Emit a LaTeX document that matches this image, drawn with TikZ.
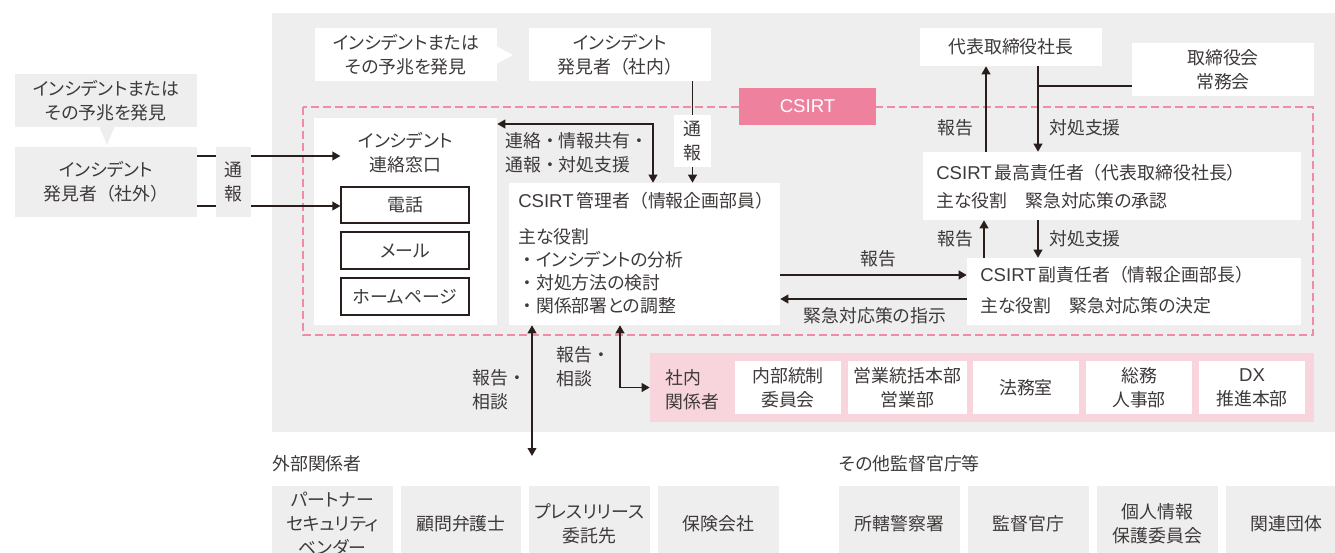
\documentclass[tikz,border=0pt]{standalone}
\usepackage{fontspec}
\setmainfont{Noto Sans CJK JP}[RawFeature=+palt]
\newfontfamily\fwf{Noto Sans CJK JP}
\newfontfamily\latf{Liberation Sans}[Scale=1.04]
\usetikzlibrary{arrows.meta,fit}
\definecolor{bgg}{RGB}{238,238,238}
\definecolor{txt}{RGB}{62,58,57}
\definecolor{lnc}{RGB}{40,30,28}
\definecolor{pinkband}{RGB}{248,212,221}
\definecolor{pinklab}{RGB}{238,130,158}
\definecolor{pinkdash}{RGB}{240,140,166}
\newcommand\CS{{\latf CSIRT}}
\newcommand\Dt{{\fwf ・}}
\newcommand\LP{{\fwf （}}
\newcommand\RP{{\fwf ）}}
% box (style, name, corners, text): shape by fit, text centred in it
\newcommand\mkbox[4]{\node[#1, fit={#3}] (#2) {};\node[ctr] (#2T) at (#2.center) {#4};}
\begin{document}
\begin{tikzpicture}[x=0.75pt,y=-0.75pt,
  every node/.style={font=\fontsize{13.4}{18}\selectfont, text=txt},
  wbox/.style={fill=white, inner sep=0pt},
  gbox/.style={fill=bgg, inner sep=0pt},
  obox/.style={draw=lnc, line width=0.9pt, fill=white, inner sep=0pt},
  pbox/.style={fill=pinkband, inner sep=0pt},
  lbl/.style={inner sep=0pt, align=left, anchor=west},
  ctr/.style={inner sep=0pt, align=center},
  ln/.style={draw=lnc, line width=1.3pt},
  arr/.style={ln, -{Triangle[length=6pt,width=6.5pt]}},
  darr/.style={ln, {Triangle[length=6pt,width=6.5pt]}-{Triangle[length=6pt,width=6.5pt]}},
]
\useasboundingbox (0,0) rectangle (1335,553);
\clip (0,0) rectangle (1335,553);

% helper coordinates
\coordinate (y86) at (0,86);
\coordinate (y124) at (0,124);
\coordinate (y156) at (0,156);
\coordinate (y206) at (0,206);
\coordinate (y275) at (0,275);
\coordinate (y299) at (0,299);
\coordinate (x620) at (620,0);
\coordinate (x653) at (653,0);
\coordinate (x984) at (984,0);
\coordinate (x986) at (986,0);
\coordinate (x1038) at (1038,0);
\coordinate (extEnd) at (532,456);

% big gray background
\fill[bgg] (272,13) rectangle (1335,432);

% ---------- left: external finder ----------
\mkbox{gbox}{callL}{(15,74)(197,127)}{インシデントまたは\\その予兆を発見}
\fill[bgg] (99,126) -- (115,126) -- (107,145) -- cycle;
\mkbox{gbox}{findOut}{(15,147)(197,217)}{インシデント\\発見者\LP 社外\RP}
\mkbox{gbox}{tsuL}{(216,147)(251,217)}{通\\報}

% ---------- top ----------
\mkbox{wbox}{callT}{(315,28)(497,81)}{インシデントまたは\\その予兆を発見}
\fill[white] (496,46) -- (513,55) -- (496,64) -- cycle;
\mkbox{wbox}{findIn}{(529,28)(711,81)}{インシデント\\発見者\LP 社内\RP}

% dashed CSIRT frame
\draw[pinkdash, line width=1.1pt, dash pattern=on 6pt off 3pt] (303,107) rectangle (1313,335);
\node[fill=pinklab, inner sep=0pt, fit={(739,88)(876,125)}] (csirt) {};
\node[ctr, text=white] (csirtT) at (csirt.center) {\CS};

\mkbox{wbox}{tsuT}{(674,115)(711,167)}{通\\報}

% contact window
\node[wbox, fit={(314,118)(497,325)}] (mado) {};
\node[ctr] (madoT) at (405.5,153) {インシデント\\連絡窓口};
\mkbox{obox}{denwa}{(341,187)(469,223)}{電話}
\mkbox{obox}{mail}{(341,232)(469,269)}{メール}
\mkbox{obox}{hp}{(341,278)(469,315)}{ホームページ}

% CSIRT manager
\node[wbox, fit={(509,183)(780,325)}] (mgr) {};
\node[lbl] (mgrT) at (518,201) {\CS\,管理者\LP 情報企画部員\RP};
\node[lbl] (mgrR) at (518,237) {主な役割};
\node[lbl] (mgrA) at (518,260) {\Dt インシデントの分析};
\node[lbl] (mgrB) at (518,283) {\Dt 対処方法の検討};
\node[lbl] (mgrC) at (518,306) {\Dt 関係部署との調整};

% right column
\mkbox{wbox}{pres}{(920,28)(1102,66)}{代表取締役社長}
\mkbox{wbox}{board}{(1132,43)(1314,96)}{取締役会\\常務会}
\node[wbox, fit={(923,152)(1301,220)}] (top) {};
\node[lbl] (topT) at (936,173) {\CS\,最高責任者\LP 代表取締役社長\RP};
\node[lbl] (topR) at (936,201) {主な役割　緊急対応策の承認};
\node[wbox, fit={(967,258)(1301,325)}] (vice) {};
\node[lbl] (viceT) at (980,275) {\CS\,副責任者\LP 情報企画部長\RP};
\node[lbl] (viceR) at (980,306) {主な役割　緊急対応策の決定};

% internal stakeholders
\node[pbox, fit={(650,353)(1314,422)}] (inner) {};
\node[lbl] (innerT) at (665,390) {社内\\関係者};
\mkbox{wbox}{naibu}{(735,361)(841,414)}{内部統制\\委員会}
\mkbox{wbox}{eigyo}{(848,361)(967,414)}{営業統括本部\\営業部}
\mkbox{wbox}{homu}{(973,361)(1079,414)}{法務室}
\mkbox{wbox}{somu}{(1086,361)(1192,414)}{総務\\人事部}
\mkbox{wbox}{dx}{(1199,361)(1305,414)}{{\latf DX}\\推進本部}

% external stakeholders
\node[lbl] (extH) at (272,464) {外部関係者};
\mkbox{gbox}{partner}{(272,486)(393,562)}{パートナー\\セキュリティ\\ベンダー}
\mkbox{gbox}{komon}{(401,486)(521,562)}{顧問弁護士}
\mkbox{gbox}{press}{(529,486)(650,562)}{プレスリリース\\委託先}
\mkbox{gbox}{hoken}{(658,486)(779,562)}{保険会社}

\node[lbl] (supH) at (839,464) {その他監督官庁等};
\mkbox{gbox}{police}{(839,486)(960,562)}{所轄警察署}
\mkbox{gbox}{kantoku}{(968,486)(1089,562)}{監督官庁}
\mkbox{gbox}{kojin}{(1097,486)(1218,562)}{個人情報\\保護委員会}
\mkbox{gbox}{kanren}{(1226,486)(1347,562)}{関連団体}

% ---------- connectors ----------
\draw[ln] (findOut.east |- y156) -- (tsuL.west |- y156);
\draw[arr] (tsuL.east |- y156) -- (denwa.west |- y156);
\draw[ln] (findOut.east |- y206) -- (tsuL.west |- y206);
\draw[arr] (tsuL.east |- y206) -- (denwa.west |- y206);

\draw[ln] (findIn.south -| tsuT.north) -- (tsuT.north);
\draw[arr] (tsuT.south) -- (tsuT.south |- mgr.north);

\draw[darr] (mado.east |- y124) -| (x653 |- mgr.north);
\node[lbl] (renT) at (505,153) {連絡\Dt 情報共有\Dt\\通報\Dt 対処支援};

\draw[arr] (x986 |- top.north) -- (x986 |- pres.south);
\draw[arr] (x1038 |- pres.south) -- (x1038 |- top.north);
\draw[ln] (x1038 |- y86) -- (board.west |- y86);
\node[ctr] (lbR1) at (955,128) {報告};
\node[lbl] (lbS1) at (1049,128) {対処支援};

\draw[arr] (x984 |- vice.north) -- (x984 |- top.south);
\draw[arr] (x1038 |- top.south) -- (x1038 |- vice.north);
\node[ctr] (lbR2) at (955,239) {報告};
\node[lbl] (lbS2) at (1049,239) {対処支援};

\draw[arr] (mgr.east |- y275) -- (vice.west |- y275);
\node[ctr] (lbR3) at (878,259) {報告};
\draw[arr] (vice.west |- y299) -- (mgr.east |- y299);
\node[ctr] (lbK) at (875,316) {緊急対応策の指示};

\draw[darr] (mgr.south -| extEnd) -- (extEnd);
\node[lbl] (lbE) at (472,390) {報告\Dt\\相談};
\draw[darr] (x620 |- mgr.south) |- (inner.west);
\node[lbl] (lbI) at (556,367) {報告\Dt\\相談};
\end{tikzpicture}
\end{document}
